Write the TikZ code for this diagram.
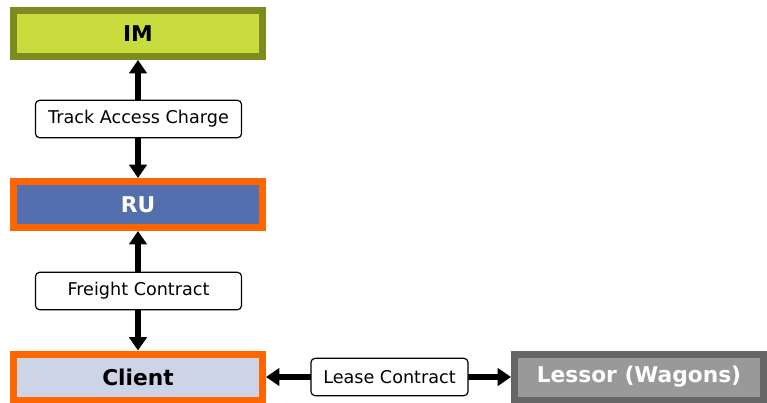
\documentclass[tikz,border=0pt]{standalone}
\usepackage{fontspec}
\setmainfont{DejaVu Sans}
\usetikzlibrary{arrows.meta,positioning}
\definecolor{imfill}{HTML}{C8DC3E}
\definecolor{imline}{HTML}{7E8B1E}
\definecolor{rufill}{HTML}{546FAE}
\definecolor{ruline}{HTML}{FF6600}
\definecolor{clfill}{HTML}{CDD4E7}
\definecolor{lsfill}{HTML}{999999}
\definecolor{lsline}{HTML}{666666}
\tikzset{
  party/.style={draw,line width=5.25pt,minimum width=186.75pt,minimum height=34.5pt,
    inner sep=0pt,font=\fontsize{16.3}{19}\selectfont\bfseries},
  contract/.style={draw,fill=white,rounded corners=3pt,line width=0.9pt,
    minimum width=154.5pt,minimum height=28pt,inner sep=0pt,font=\fontsize{13.2}{15}\selectfont},
  link/.style={{Triangle[length=10pt,width=13pt]}-{Triangle[length=10pt,width=13pt]},line width=4.2pt}
}
\begin{document}
\begin{tikzpicture}[x=0.75pt,y=-0.75pt]
	\useasboundingbox (0,0) rectangle (767,403);
	% parties
	\node[party,fill=imfill,draw=imline] (im) at (138,33.5) {IM};
	\node[party,fill=rufill,draw=ruline,text=white] (ru) at (138,204.5) {RU};
	\node[party,fill=clfill,draw=ruline] (client) at (138,377) {Client};
	\node[party,fill=lsfill,draw=lsline,text=white] (lessor) at (639,377) {Lessor (Wagons)};
	% contracts
	\draw[link] (ru.north) -- (im.south);
	\draw[link] (client.north) -- (ru.south);
	\draw[link] (client.east) -- (lessor.west);
	\node[contract] (tac) at (138.5,119) {Track Access Charge};
	\node[contract] (fc) at (138.5,291) {Freight Contract};
	\node[contract,minimum width=117.75pt] (lc) at (389.5,377) {Lease Contract};
\end{tikzpicture}
\end{document}
